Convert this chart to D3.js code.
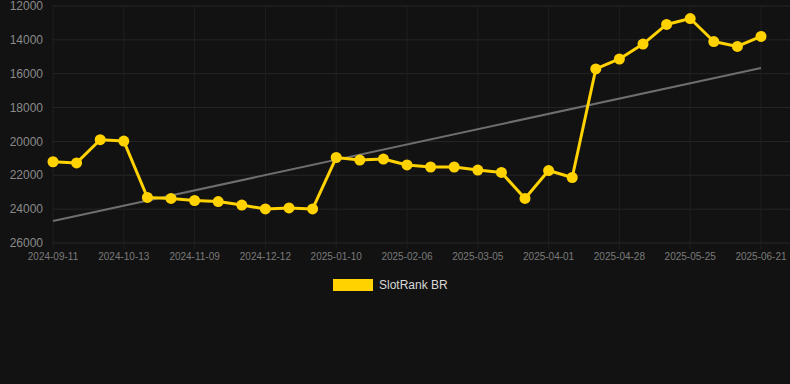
<!DOCTYPE html>
<html>
<head>
<meta charset="utf-8">
<script src="https://cdn.jsdelivr.net/npm/d3@7"></script>
<style>
  html,body{margin:0;padding:0;background:#121212;}
  svg{display:block;}
</style>
</head>
<body>
<svg id="chart"></svg>
<script>
// dates of each sample (only every 3rd is shown as a tick label)
const dates = ["2024-09-11","2024-09-22","2024-10-02","2024-10-13","2024-10-22","2024-10-31",
  "2024-11-09","2024-11-20","2024-12-01","2024-12-12","2024-12-21","2024-12-31",
  "2025-01-10","2025-01-19","2025-01-28","2025-02-06","2025-02-15","2025-02-24",
  "2025-03-05","2025-03-14","2025-03-23","2025-04-01","2025-04-10","2025-04-19",
  "2025-04-28","2025-05-07","2025-05-16","2025-05-25","2025-06-03","2025-06-12","2025-06-21"];
const rankValues = [21200,21270,19900,19980,23310,23370,23490,23550,23760,23990,23930,23990,
  20950,21100,21040,21390,21510,21510,21690,21830,23370,21720,22130,
  15720,15130,14250,13090,12740,14100,14390,13800];
// trend line start and end values
const trendValues = [24700,15660];
const yTicks = [12000,14000,16000,18000,20000,22000,24000,26000];
const seriesName = "SlotRank BR";

const W = 790, H = 384;
const plotL = 53, plotR = 761, plotT = 6, plotB = 243;

const svg = d3.select("#chart").attr("width",W).attr("height",H);

const x = d3.scalePoint().domain(dates).range([plotL,plotR]);
const y = d3.scaleLinear().domain([12000,26000]).range([plotT,plotB]);

// grid
const grid = svg.append("g");
grid.selectAll("line.h").data(yTicks).join("line")
  .attr("x1",plotL).attr("x2",W)
  .attr("y1",d=>y(d)).attr("y2",d=>y(d))
  .attr("stroke","#262626").attr("stroke-width",1);
const labelled = dates.filter((d,i)=>i%3===0);
grid.selectAll("line.v").data(labelled).join("line")
  .attr("x1",d=>x(d)).attr("x2",d=>x(d))
  .attr("y1",plotT).attr("y2",plotB+6)
  .attr("stroke","#1f1f1f").attr("stroke-width",1);

// y axis labels
svg.append("g").selectAll("text").data(yTicks).join("text")
  .attr("x",43).attr("y",d=>y(d)).attr("dy","0.35em")
  .attr("text-anchor","end")
  .attr("font-family","Arial, 'Liberation Sans', sans-serif")
  .attr("font-size",12).attr("fill","#8a8a8a")
  .text(d=>d);

// x axis labels
svg.append("g").selectAll("text").data(labelled).join("text")
  .attr("x",d=>x(d)).attr("y",plotB+17)
  .attr("text-anchor","middle")
  .attr("font-family","Arial, 'Liberation Sans', sans-serif")
  .attr("font-size",10).attr("fill","#7a7a7a")
  .text(d=>d);

// trend line
svg.append("line")
  .attr("x1",x(dates[0])).attr("y1",y(trendValues[0]))
  .attr("x2",x(dates[dates.length-1])).attr("y2",y(trendValues[1]))
  .attr("stroke","#6e6e6e").attr("stroke-width",2);

// series line
const line = d3.line().x((d,i)=>x(dates[i])).y(d=>y(d));
svg.append("path").datum(rankValues)
  .attr("d",line).attr("fill","none")
  .attr("stroke","#FFD200").attr("stroke-width",3)
  .attr("stroke-linejoin","round");

svg.append("g").selectAll("circle").data(rankValues).join("circle")
  .attr("cx",(d,i)=>x(dates[i])).attr("cy",d=>y(d))
  .attr("r",5.5).attr("fill","#FFD200");

// legend
const lg = svg.append("g");
lg.append("rect").attr("x",333).attr("y",279).attr("width",40).attr("height",12)
  .attr("fill","#FFD200");
lg.append("text").attr("x",379).attr("y",285).attr("dy","0.35em")
  .attr("font-family","Arial, 'Liberation Sans', sans-serif")
  .attr("font-size",12).attr("fill","#d8d8d8")
  .text(seriesName);
</script>
</body>
</html>
